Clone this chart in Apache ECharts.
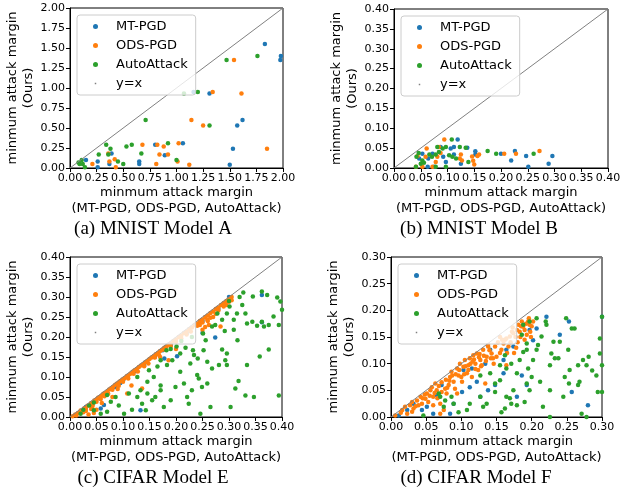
<!DOCTYPE html>
<html>
<head>
<meta charset="utf-8">
<script src="https://cdn.jsdelivr.net/npm/echarts@6/dist/echarts.min.js"></script>
<style>
  html, body { margin: 0; background: #fff; }
  #chart { width: 625px; height: 489px; }
</style>
</head>
<body>
<div id="chart"></div>
<script>
// attack names and colours (matplotlib defaults)
const attackNames = ['MT-PGD', 'ODS-PGD', 'AutoAttack'];
const attackColors = ['#1f77b4', '#ff7f0e', '#2ca02c'];
const captions = ['(a) MNIST Model A', '(b) MNIST Model B', '(c) CIFAR Model E', '(d) CIFAR Model F'];
const axisMax = [2, 0.4, 0.4, 0.3];
const tickStep = [0.25, 0.05, 0.05, 0.05];

// (a) MNIST Model A  [x = other attacks, y = ours]
const aMT = [[1.83,1.55],[1.975,1.35],[1.98,1.40],[1.31,0.93],[1.16,0.95],[1.62,0.60],[1.57,0.53],[1.53,0.24],[1.50,0.04],[1.06,0.31],[0.89,0.16],[0.80,0.29],[0.65,0.08],[0.65,0.05],[0.39,0.18],[0.37,0.05],[0.26,0.08],[0.26,0.01],[0.15,0.10]];
const aODS = [[1.54,1.35],[1.61,0.93],[1.34,0.95],[1.14,0.60],[1.25,0.53],[1.85,0.24],[1.02,0.31],[1.01,0.08],[1.12,0.04],[0.88,0.27],[0.84,0.17],[0.82,0.29],[0.92,0.17],[0.81,0.05],[0.68,0.29],[0.42,0.11],[0.43,0.01],[0.37,0.08],[0.36,0.18],[0.21,0.05]];
const aAA = [[1.76,1.40],[1.47,1.35],[1.20,0.95],[1.07,0.93],[1.31,0.53],[0.71,0.60],[0.92,0.31],[0.58,0.29],[0.53,0.27],[0.67,0.18],[0.34,0.29],[0.38,0.24],[0.36,0.17],[0.45,0.08],[0.50,0.05],[1.00,0.10],[0.27,0.17],[0.11,0.10],[0.12,0.05],[0.09,0.05],[0.14,0.01],[0.08,0.07]];

// (b) MNIST Model B
const bMT = [[0.296,0.030],[0.289,0.011],[0.247,0.030],[0.251,0.003],[0.226,0.043],[0.219,0.019],[0.200,0.036],[0.152,0.042],[0.152,0.034],[0.137,0.051],[0.119,0.072],[0.112,0.053],[0.106,0.049],[0.125,0.011],[0.112,0.034],[0.072,0.036],[0.075,0.003],[0.064,0.024],[0.063,0.003],[0.087,0.053],[0.092,0.028],[0.047,0.024],[0.053,0.036],[0.097,0.015]];
const bODS = [[0.272,0.043],[0.228,0.036],[0.206,0.036],[0.159,0.034],[0.156,0.030],[0.148,0.018],[0.150,0.009],[0.146,0.029],[0.125,0.034],[0.123,0.024],[0.127,0.019],[0.094,0.072],[0.084,0.053],[0.087,0.038],[0.081,0.028],[0.078,0.015],[0.072,0.003],[0.059,0.028],[0.053,0.003],[0.041,0.003],[0.044,0.030],[0.061,0.049]];
const bAA = [[0.261,0.036],[0.191,0.036],[0.175,0.043],[0.139,0.015],[0.134,0.051],[0.123,0.053],[0.108,0.072],[0.103,0.032],[0.109,0.028],[0.116,0.024],[0.097,0.003],[0.097,0.053],[0.091,0.049],[0.084,0.040],[0.078,0.034],[0.071,0.028],[0.066,0.034],[0.050,0.011],[0.046,0.038],[0.042,0.028],[0.041,0.003],[0.053,0.019],[0.056,0.013],[0.078,0.003],[0.081,0.053]];

// (c) CIFAR Model E
const cMT = [[0.01,0.005],[0.03,0.025],[0.055,0.047],[0.058,0.021],[0.064,0.03],[0.085,0.075],[0.095,0.085],[0.1,0.092],[0.125,0.115],[0.14,0.13],[0.16,0.15],[0.175,0.167],[0.19,0.18],[0.202,0.152],[0.178,0.146],[0.133,0.017],[0.274,0.199],[0.362,0.305],[0.362,0.237],[0.22,0.21],[0.25,0.24],[0.25,0.21],[0.28,0.27],[0.298,0.29],[0.3,0.3]];
const cODS = [[0.005,0.002],[0.01,0.006],[0.015,0.01],[0.02,0.016],[0.022,0.012],[0.027,0.022],[0.03,0.02],[0.033,0.028],[0.037,0.03],[0.04,0.035],[0.043,0.03],[0.046,0.041],[0.05,0.044],[0.053,0.048],[0.056,0.05],[0.06,0.053],[0.063,0.058],[0.066,0.06],[0.07,0.063],[0.074,0.069],[0.078,0.072],[0.081,0.075],[0.085,0.08],[0.088,0.083],[0.092,0.086],[0.095,0.09],[0.099,0.094],[0.103,0.097],[0.107,0.102],[0.11,0.104],[0.114,0.108],[0.118,0.113],[0.122,0.117],[0.126,0.12],[0.13,0.125],[0.134,0.129],[0.138,0.132],[0.142,0.137],[0.146,0.14],[0.15,0.145],[0.154,0.149],[0.158,0.152],[0.162,0.157],[0.166,0.16],[0.17,0.165],[0.174,0.168],[0.178,0.173],[0.182,0.176],[0.186,0.181],[0.19,0.184],[0.195,0.19],[0.2,0.194],[0.205,0.2],[0.21,0.204],[0.215,0.21],[0.22,0.214],[0.225,0.22],[0.23,0.224],[0.235,0.23],[0.24,0.234],[0.245,0.24],[0.25,0.244],[0.255,0.25],[0.26,0.254],[0.265,0.26],[0.27,0.264],[0.275,0.27],[0.28,0.274],[0.285,0.28],[0.29,0.285],[0.295,0.29],[0.3,0.295],[0.305,0.3],
  [0.03,0.015],[0.05,0.038],[0.065,0.052],[0.08,0.068],[0.1,0.088],[0.12,0.108],[0.14,0.127],[0.16,0.149],[0.18,0.168],[0.2,0.188],[0.22,0.206],[0.24,0.228],[0.25,0.236],[0.255,0.225],[0.26,0.24],[0.27,0.25],[0.28,0.266],[0.29,0.276],[0.3,0.288],[0.262,0.23],[0.245,0.23],
  [0.259,0.243],[0.284,0.226],[0.116,0.079],[0.136,0.071],[0.08,0.05],[0.108,0.059],[0.186,0.142],[0.04,0.02],[0.06,0.035],[0.09,0.07],[0.045,0.01],[0.2,0.17],[0.17,0.15],[0.035,0.006],[0.05,0.018],
  [0.012,0.004],[0.025,0.012],[0.042,0.025],[0.058,0.045],[0.072,0.058],[0.092,0.078],[0.11,0.096],[0.128,0.114],[0.148,0.134],[0.168,0.155],[0.19,0.176],[0.21,0.196],[0.228,0.214],[0.25,0.218],[0.265,0.248],[0.275,0.258],[0.295,0.28],[0.305,0.292]];
const cAA = [[0.327,0.311],[0.345,0.301],[0.362,0.314],[0.372,0.305],[0.391,0.299],[0.397,0.289],[0.4,0.268],[0.384,0.251],[0.362,0.238],[0.366,0.226],[0.375,0.230],[0.394,0.230],[0.344,0.238],[0.353,0.228],[0.334,0.234],[0.325,0.280],[0.331,0.259],[0.315,0.259],[0.309,0.243],[0.301,0.276],[0.296,0.259],[0.287,0.243],[0.278,0.259],[0.309,0.218],[0.292,0.215],[0.316,0.192],[0.287,0.169],[0.296,0.159],[0.293,0.142],[0.281,0.130],[0.334,0.130],[0.358,0.151],[0.375,0.169],[0.394,0.054],[0.347,0.050],[0.318,0.090],[0.331,0.054],[0.312,0.071],[0.296,0.130],[0.268,0.121],[0.259,0.138],[0.252,0.167],[0.274,0.230],[0.268,0.226],[0.256,0.192],[0.251,0.209],[0.232,0.167],[0.234,0.155],[0.241,0.146],[0.218,0.173],[0.208,0.159],[0.201,0.176],[0.240,0.105],[0.243,0.096],[0.249,0.075],[0.259,0.084],[0.230,0.067],[0.221,0.050],[0.224,0.033],[0.246,0.008],[0.265,0.025],[0.303,0.025],[0.215,0.084],[0.199,0.075],[0.193,0.142],[0.183,0.130],[0.182,0.167],[0.171,0.142],[0.165,0.126],[0.158,0.100],[0.171,0.079],[0.146,0.088],[0.146,0.059],[0.155,0.042],[0.161,0.050],[0.133,0.067],[0.127,0.050],[0.136,0.033],[0.143,0.017],[0.177,0.025],[0.190,0.042],[0.127,0.100],[0.111,0.059],[0.092,0.029],[0.102,0.008],[0.117,0.018],[0.077,0.038],[0.070,0.013],[0.058,0.008],[0.045,0.017],[0.036,0.029],[0.020,0.008],[0.086,0.050],[0.149,0.117],[0.171,0.067],[0.208,0.113],[0.227,0.134],[0.025,0.018],[0.045,0.036],[0.07,0.055],[0.19,0.17],[0.21,0.19],[0.23,0.2],[0.3,0.29],[0.32,0.3]];

// (d) CIFAR Model F
const dMT = [[0.221,0.188],[0.253,0.179],[0.240,0.154],[0.257,0.047],[0.280,0.022],[0.3,0.188],[0.207,0.166],[0.202,0.144],[0.197,0.163],[0.174,0.132],[0.186,0.078],[0.193,0.060],[0.179,0.038],[0.160,0.082],[0.148,0.060],[0.138,0.050],[0.127,0.038],[0.115,0.091],[0.122,0.066],[0.112,0.056],[0.101,0.047],[0.089,0.025],[0.084,0.006],[0.072,0.060],[0.065,0.041],[0.060,0.006],[0.051,0.019],[0.044,0.013],[0.032,0.025],[0.023,0.013],[0.011,0.003],[0.160,0.107],[0.164,0.126],[0.141,0.126],[0.134,0.100],[0.103,0.088]];
const dODS = [[0.006,0.003],[0.016,0.013],[0.020,0.019],[0.023,0.006],[0.027,0.022],[0.030,0.028],[0.032,0.016],[0.037,0.031],[0.039,0.022],[0.042,0.038],[0.044,0.025],[0.049,0.034],[0.051,0.044],[0.053,0.028],[0.056,0.050],[0.058,0.056],[0.060,0.038],[0.060,0.022],[0.063,0.063],[0.065,0.050],[0.070,0.025],[0.070,0.006],[0.075,0.013],[0.084,0.075],[0.086,0.085],[0.089,0.066],[0.091,0.053],[0.094,0.091],[0.096,0.078],[0.098,0.100],[0.101,0.066],[0.103,0.094],[0.105,0.107],[0.108,0.082],[0.110,0.097],[0.112,0.110],[0.115,0.075],[0.117,0.116],[0.120,0.100],[0.122,0.119],[0.124,0.088],[0.127,0.107],[0.129,0.097],[0.131,0.126],[0.134,0.063],[0.136,0.113],[0.138,0.132],[0.143,0.119],[0.146,0.100],[0.148,0.132],[0.150,0.113],[0.157,0.126],[0.160,0.138],[0.164,0.097],[0.167,0.132],[0.169,0.151],[0.174,0.157],[0.179,0.163],[0.181,0.173],[0.183,0.160],[0.186,0.179],[0.188,0.169],[0.190,0.163],[0.193,0.154],[0.195,0.179],[0.197,0.173],[0.202,0.179],[0.155,0.150],[0.164,0.147],[0.079,0.044],[0.082,0.060],[0.077,0.053],[0.072,0.047],[0.094,0.044],[0.138,0.135],
  [0.03,0.010],[0.045,0.035],[0.055,0.040],[0.062,0.045],[0.068,0.058],[0.072,0.065],[0.078,0.070],[0.083,0.068],[0.087,0.078],[0.092,0.080],[0.097,0.088],[0.100,0.075],[0.106,0.095],[0.110,0.088],[0.113,0.100],[0.118,0.108],[0.120,0.090],[0.125,0.112],[0.128,0.095],[0.132,0.115],[0.135,0.105],[0.140,0.125],[0.145,0.110],[0.152,0.140],[0.155,0.120],[0.162,0.145],[0.165,0.120],[0.172,0.160],[0.177,0.150],[0.185,0.170],[0.192,0.175],[0.198,0.160],[0.200,0.170],[0.180,0.140],[0.178,0.130],[0.175,0.120],[0.190,0.145],
  [0.014,0.008],[0.035,0.020],[0.048,0.042],[0.066,0.035],[0.080,0.055],[0.104,0.080],[0.116,0.104],[0.126,0.118],[0.142,0.110],[0.158,0.145],[0.170,0.140],[0.184,0.150],[0.196,0.185],[0.199,0.150],[0.173,0.168]];
const dAA = [[0.249,0.185],[0.257,0.166],[0.261,0.166],[0.3,0.188],[0.297,0.147],[0.297,0.119],[0.3,0.097],[0.286,0.087],[0.292,0.078],[0.278,0.097],[0.281,0.113],[0.273,0.107],[0.266,0.097],[0.268,0.066],[0.266,0.060],[0.253,0.063],[0.245,0.038],[0.247,0.075],[0.254,0.088],[0.252,0.126],[0.240,0.141],[0.231,0.141],[0.228,0.119],[0.238,0.110],[0.226,0.097],[0.221,0.173],[0.220,0.179],[0.214,0.151],[0.209,0.135],[0.207,0.126],[0.202,0.107],[0.200,0.075],[0.195,0.091],[0.193,0.063],[0.197,0.050],[0.226,0.050],[0.226,0.0],[0.278,0.0],[0.271,0.006],[0.3,0.047],[0.294,0.047],[0.190,0.028],[0.179,0.022],[0.169,0.035],[0.164,0.038],[0.174,0.050],[0.171,0.025],[0.157,0.009],[0.162,0.016],[0.155,0.069],[0.164,0.091],[0.171,0.100],[0.179,0.082],[0.183,0.107],[0.188,0.122],[0.193,0.126],[0.186,0.154],[0.193,0.138],[0.188,0.173],[0.197,0.179],[0.207,0.185],[0.136,0.025],[0.131,0.019],[0.127,0.038],[0.112,0.025],[0.108,0.013],[0.096,0.009],[0.089,0.025],[0.086,0.038],[0.077,0.031],[0.075,0.019],[0.070,0.038],[0.068,0.044],[0.046,0.003],[0.148,0.047],[0.148,0.063],[0.155,0.097],[0.162,0.116],[0.141,0.082],[0.127,0.078],[0.216,0.019],[0.212,0.066],[0.233,0.110]];

const panelData = [[aMT, aODS, aAA], [bMT, bODS, bAA], [cMT, cODS, cAA], [dMT, dODS, dAA]];

// layout of the four panels (pixels)
const grids = [
  { left: 70, top: 8, width: 213, height: 160 },
  { left: 394, top: 9, width: 214, height: 159 },
  { left: 70, top: 257, width: 212, height: 160 },
  { left: 391, top: 257, width: 211, height: 160 }
];
const captionPos = [[153, 229], [479, 229], [153, 478], [476, 478]];

const font = 'DejaVu Sans';
const xAxes = [], yAxes = [], series = [], legends = [], graphics = [];

grids.forEach((g, i) => {
  const common = {
    type: 'value', gridIndex: i, min: 0, max: axisMax[i], interval: tickStep[i],
    axisLine: { show: true, lineStyle: { color: '#000', width: 1 } },
    axisTick: { show: true, length: 4, lineStyle: { color: '#000' } },
    splitLine: { show: false },
    axisLabel: { fontFamily: font, fontSize: 11, color: '#000', margin: 5,
      formatter: v => v.toFixed(2) },
    nameLocation: 'middle',
    nameTextStyle: { fontFamily: font, fontSize: 13, color: '#000', lineHeight: 16 }
  };
  xAxes.push(Object.assign({}, common, {
    name: 'minmum attack margin\n(MT-PGD, ODS-PGD, AutoAttack)', nameGap: 16
  }));
  yAxes.push(Object.assign({}, common, {
    name: 'minmum attack margin\n(Ours)', nameGap: 28
  }));

  attackNames.forEach((name, k) => {
    series.push({
      name: name, type: 'scatter', xAxisIndex: i, yAxisIndex: i,
      data: panelData[i][k], symbolSize: 4.5,
      itemStyle: { color: attackColors[k], opacity: 1 }
    });
  });
  series.push({
    name: 'y=x', type: 'line', xAxisIndex: i, yAxisIndex: i,
    data: [[0, 0], [axisMax[i], axisMax[i]]],
    symbol: 'none', silent: true,
    lineStyle: { color: '#808080', width: 1 },
    itemStyle: { color: '#808080' }
  });

  legends.push({
    orient: 'vertical', left: g.left + 7, top: g.top + 7,
    padding: [4, 8, 4, 16], itemGap: 4, itemWidth: 5, itemHeight: 5,
    icon: 'circle',
    formatter: '{gap|}{name}',
    data: attackNames.concat([{ name: 'y=x', icon: 'path://M0,0M10,10M3.5,3.5h3v3h-3z',
      itemStyle: { color: '#808080' } }]),
    textStyle: { fontFamily: font, fontSize: 13, color: '#000', lineHeight: 15,
      rich: { gap: { width: 13 } } },
    backgroundColor: 'rgba(255,255,255,0.8)',
    borderColor: '#cccccc', borderWidth: 1, borderRadius: 3,
    selectedMode: false
  });

  graphics.push({
    type: 'text', x: captionPos[i][0], y: captionPos[i][1],
    style: { text: captions[i], fontFamily: 'Liberation Serif', fontSize: 19,
      fill: '#000', textAlign: 'center', textVerticalAlign: 'middle' }
  });
});

const chart = echarts.init(document.getElementById('chart'));
chart.setOption({
  animation: false,
  grid: grids.map(g => Object.assign({ show: true, borderColor: '#000', borderWidth: 1,
    backgroundColor: 'transparent' }, g)),
  xAxis: xAxes,
  yAxis: yAxes,
  legend: legends,
  series: series,
  graphic: graphics
});
</script>
</body>
</html>
